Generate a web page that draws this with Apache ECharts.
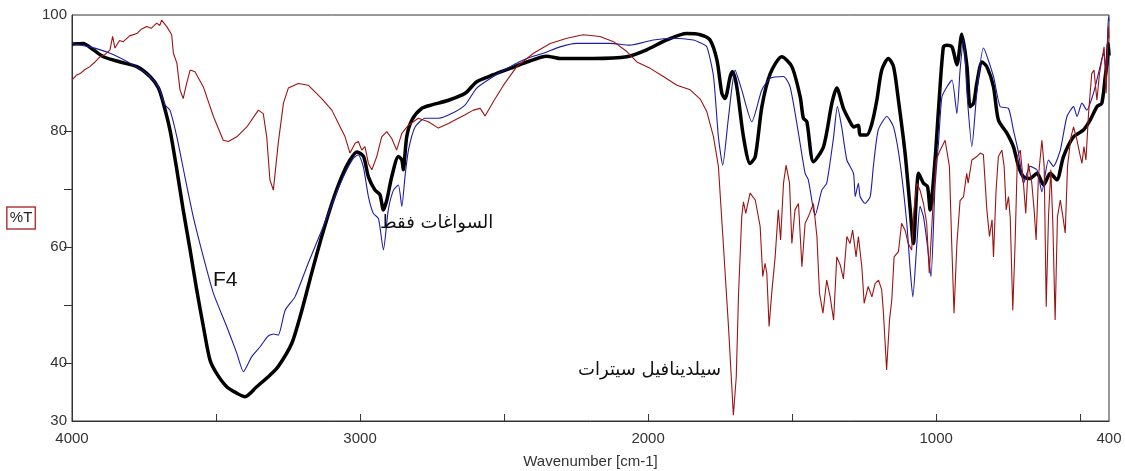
<!DOCTYPE html>
<html>
<head>
<meta charset="utf-8">
<title>FTIR</title>
<script src="https://cdn.jsdelivr.net/npm/echarts@6/dist/echarts.min.js"></script>
<style>
  html, body { margin: 0; padding: 0; background: #fff; }
  #chart { width: 1125px; height: 471px; }
</style>
</head>
<body>
<div id="chart"></div>
<script>
// Wavenumber axis labels / ticks (cm-1) and transmittance axis labels / ticks (%T)
const xLabelValues = [4000, 3000, 2000, 1000, 400];
const xTickValues = [3500, 3000, 2500, 2000, 1500, 1000, 500];
const yLabelValues = [30, 40, 60, 80, 100];
const yTickValues = [40, 50, 60, 70, 80];

// F4 formulation spectrum: [wavenumber, %T]
const f4Data = [
  [4000, 95.0], [3961, 95.1], [3926, 94.0], [3891, 92.8], [3833, 91.9], [3775, 91.1],
  [3729, 89.4], [3700, 87.4], [3683, 84.8], [3660, 80.2], [3636, 73.3], [3614, 66.4],
  [3590, 59.5], [3567, 52.6], [3544, 46.3], [3521, 40.5], [3498, 38.2], [3463, 35.9],
  [3428, 34.8], [3399, 34.2], [3359, 35.9], [3313, 37.9], [3284, 39.4], [3237, 43.4],
  [3202, 49.1], [3168, 55.5], [3133, 61.8], [3098, 67.5], [3064, 72.1], [3035, 75.0],
  [3011, 76.4], [2988, 75.6], [2971, 72.1], [2948, 69.8], [2931, 69.0], [2919, 66.4],
  [2907, 68.1], [2890, 72.1], [2867, 75.6], [2855, 75.0], [2850, 73.3], [2838, 79.0],
  [2820, 81.9], [2786, 83.9], [2751, 84.5], [2693, 85.3], [2635, 86.5], [2595, 88.5],
  [2537, 89.7], [2479, 90.8], [2421, 91.9], [2352, 92.9], [2306, 92.5], [2190, 92.5],
  [2074, 92.8], [2005, 94.0], [1935, 95.7], [1866, 96.8], [1819, 96.6], [1785, 95.7],
  [1761, 92.2], [1744, 86.5], [1733, 85.6], [1715, 89.4], [1707, 90.2], [1692, 87.6],
  [1669, 79.0], [1646, 74.4], [1628, 75.6], [1605, 84.2], [1576, 89.9], [1536, 92.8],
  [1501, 91.1], [1472, 85.9], [1461, 82.2], [1449, 81.6], [1426, 74.7], [1391, 77.3],
  [1362, 84.8], [1345, 87.4], [1322, 83.9], [1299, 81.6], [1287, 80.7], [1270, 81.0],
  [1264, 79.3], [1241, 79.3], [1223, 81.3], [1206, 85.3], [1189, 90.5], [1166, 92.5],
  [1148, 91.1], [1131, 85.3], [1108, 76.2], [1090, 66.4], [1079, 60.6], [1061, 72.7],
  [1044, 71.0], [1030, 70.4], [1021, 66.4], [1004, 75.0], [992, 83.6], [975, 94.5],
  [963, 94.8], [945, 94.5], [928, 91.4], [911, 96.7], [893, 91.1], [882, 84.2],
  [870, 84.8], [859, 88.2], [841, 91.9], [824, 91.1], [801, 87.6], [784, 81.9],
  [754, 79.6], [732, 77.3], [714, 73.9], [697, 72.1], [674, 71.8], [650, 72.7],
  [627, 70.7], [604, 72.7], [581, 71.6], [558, 75.6], [523, 79.0], [488, 80.2],
  [465, 81.9], [442, 84.2], [425, 84.8], [413, 89.4], [406, 92.0], [402, 95.1], [400, 93.0]
];

// Excipients-only spectrum: [wavenumber, %T]
const excipientData = [
  [4000, 95.1], [3938, 94.5], [3868, 93.4], [3799, 91.7], [3741, 89.9], [3700, 87.6],
  [3677, 84.5], [3660, 83.6], [3636, 79.0], [3608, 72.1], [3579, 65.2], [3544, 58.3],
  [3509, 52.0], [3463, 46.3], [3428, 41.7], [3405, 38.5], [3376, 41.1], [3347, 42.8],
  [3320, 44.6], [3300, 45.0], [3284, 44.8], [3260, 49.1], [3226, 51.4], [3180, 57.2],
  [3133, 62.9], [3087, 68.7], [3052, 72.7], [3023, 75.3], [3006, 75.9], [2989, 73.9],
  [2971, 68.7], [2954, 65.8], [2936, 64.9], [2919, 59.5], [2902, 66.4], [2884, 69.8],
  [2867, 70.7], [2855, 67.0], [2844, 72.1], [2832, 76.7], [2809, 80.7], [2774, 82.2],
  [2728, 82.2], [2682, 83.0], [2635, 84.5], [2595, 87.4], [2537, 89.4], [2479, 91.1],
  [2421, 92.5], [2364, 93.4], [2306, 94.5], [2248, 95.1], [2132, 95.1], [2063, 94.8],
  [1982, 95.7], [1912, 96.0], [1843, 95.7], [1819, 95.2], [1796, 94.5], [1773, 89.4],
  [1756, 79.0], [1741, 74.1], [1722, 81.9], [1698, 90.5], [1675, 87.1], [1640, 81.6],
  [1605, 87.1], [1576, 89.1], [1530, 89.4], [1507, 87.6], [1478, 79.6], [1455, 72.7],
  [1444, 71.6], [1426, 66.4], [1420, 65.5], [1397, 69.8], [1380, 71.0], [1356, 79.0],
  [1343, 84.2], [1328, 80.7], [1310, 75.0], [1287, 72.7], [1281, 68.7], [1270, 71.0],
  [1264, 68.7], [1247, 67.5], [1229, 68.7], [1218, 73.9], [1201, 80.2], [1171, 82.5],
  [1148, 80.7], [1125, 74.4], [1102, 64.1], [1090, 56.0], [1081, 51.4], [1067, 60.6],
  [1056, 67.0], [1044, 65.2], [1030, 60.1], [1018, 54.9], [1004, 70.4], [992, 77.9],
  [980, 85.9], [963, 87.6], [945, 88.8], [928, 83.0], [917, 90.5], [905, 95.7],
  [893, 86.5], [876, 77.3], [859, 86.5], [836, 94.3], [801, 89.4], [778, 84.2],
  [749, 83.9], [732, 80.2], [714, 76.2], [702, 72.1], [697, 71.0], [674, 73.9],
  [650, 73.3], [633, 69.5], [610, 75.0], [593, 73.9], [569, 76.7], [546, 82.5],
  [523, 84.2], [511, 82.5], [494, 84.8], [477, 83.6], [454, 86.5], [431, 91.1],
  [419, 93.4], [410, 90.5], [402, 99.7], [400, 99.0]
];

// Sildenafil citrate spectrum: [wavenumber, %T]
const sildenafilData = [
  [4000, 88.8], [3985, 89.6], [3972, 89.9], [3955, 90.6], [3938, 91.1], [3920, 91.9],
  [3903, 92.8], [3885, 93.2], [3868, 94.0], [3859, 96.3], [3851, 94.3], [3835, 95.6],
  [3822, 95.4], [3800, 96.4], [3775, 96.8], [3758, 97.6], [3741, 98.0], [3725, 97.7],
  [3706, 98.6], [3695, 98.2], [3689, 99.1], [3671, 98.0], [3654, 96.6], [3648, 93.4],
  [3636, 91.7], [3625, 87.1], [3614, 85.6], [3602, 88.2], [3590, 90.5], [3573, 90.2],
  [3544, 87.6], [3509, 82.5], [3475, 78.4], [3457, 78.2], [3428, 79.0], [3393, 80.7],
  [3353, 83.6], [3336, 83.0], [3324, 79.0], [3313, 71.6], [3301, 69.8], [3284, 77.9],
  [3266, 84.8], [3249, 87.4], [3214, 88.2], [3180, 87.9], [3133, 85.6], [3098, 83.6],
  [3075, 81.3], [3052, 79.0], [3035, 76.2], [3017, 77.9], [3006, 78.2], [2994, 76.7],
  [2983, 77.3], [2971, 74.4], [2959, 73.3], [2942, 75.6], [2925, 79.0], [2907, 79.9],
  [2890, 78.7], [2873, 76.7], [2855, 79.6], [2832, 81.0], [2798, 82.2], [2763, 81.6],
  [2728, 80.5], [2693, 81.3], [2659, 82.2], [2635, 82.8], [2607, 83.6], [2583, 83.9],
  [2566, 82.6], [2537, 85.1], [2502, 87.9], [2456, 91.1], [2398, 93.4], [2340, 95.1],
  [2282, 96.0], [2225, 96.6], [2167, 96.3], [2120, 95.4], [2074, 93.7], [2039, 91.9],
  [1993, 90.8], [1947, 89.4], [1900, 87.9], [1854, 87.1], [1819, 85.5], [1796, 83.3],
  [1773, 79.0], [1756, 73.9], [1739, 60.6], [1721, 46.3], [1704, 31.0], [1694, 37.6],
  [1686, 52.0], [1675, 65.2], [1669, 67.8], [1661, 65.8], [1646, 69.3], [1628, 68.1],
  [1611, 63.5], [1602, 54.9], [1594, 57.2], [1588, 55.5], [1580, 46.3], [1571, 52.0],
  [1559, 58.3], [1548, 66.4], [1540, 61.2], [1530, 71.0], [1521, 74.1], [1509, 71.0],
  [1501, 60.6], [1490, 66.4], [1478, 67.5], [1466, 56.6], [1455, 64.1], [1444, 65.2],
  [1426, 67.5], [1414, 61.8], [1405, 52.0], [1393, 48.6], [1380, 54.3], [1368, 51.4],
  [1356, 47.4], [1345, 58.3], [1333, 56.9], [1322, 54.5], [1310, 61.8], [1299, 60.6],
  [1290, 62.9], [1278, 58.3], [1270, 61.8], [1258, 56.6], [1250, 50.3], [1236, 53.2],
  [1223, 51.4], [1212, 53.7], [1200, 54.3], [1189, 52.6], [1183, 48.6], [1172, 38.8],
  [1162, 47.4], [1154, 50.9], [1146, 58.3], [1131, 59.2], [1120, 64.1], [1108, 62.9],
  [1097, 60.6], [1085, 59.5], [1077, 66.4], [1067, 71.0], [1056, 69.8], [1044, 67.5],
  [1033, 64.1], [1024, 55.5], [1012, 66.4], [1000, 75.0], [986, 76.7], [969, 78.4],
  [954, 73.9], [946, 60.6], [938, 48.6], [928, 60.6], [917, 68.0], [905, 68.7],
  [894, 72.7], [889, 71.0], [876, 75.0], [859, 75.6], [847, 76.2], [836, 75.9],
  [824, 66.4], [815, 61.8], [806, 64.7], [801, 58.3], [792, 69.8], [784, 75.6],
  [772, 76.7], [764, 73.9], [757, 66.4], [749, 68.7], [743, 65.2], [734, 49.1],
  [726, 60.6], [718, 75.6], [708, 76.7], [697, 71.0], [689, 65.8], [680, 74.4],
  [668, 71.0], [660, 66.4], [653, 61.2], [645, 72.1], [633, 78.4], [625, 73.9],
  [618, 49.7], [610, 65.2], [602, 73.3], [595, 64.1], [587, 47.4], [579, 65.2],
  [569, 68.1], [560, 65.2], [552, 62.4], [544, 73.9], [532, 79.0], [523, 80.7],
  [511, 78.4], [502, 76.2], [494, 74.4], [487, 77.3], [480, 75.0], [471, 83.0],
  [460, 89.9], [452, 90.5], [442, 85.3], [433, 89.9], [425, 92.2], [417, 94.5],
  [410, 86.5], [402, 98.0], [400, 96.0]
];

const labelFont = '"Liberation Sans", Arial, "DejaVu Sans", sans-serif';
const plainNumber = function (v) { return String(v); };

const chart = echarts.init(document.getElementById('chart'), null, { renderer: 'canvas' });

chart.setOption({
  animation: false,
  backgroundColor: '#ffffff',
  grid: {
    left: 72, right: 16, top: 15, bottom: 50,
    containLabel: false,
    outerBoundsMode: 'none',
    show: true, borderColor: '#333333', borderWidth: 1, backgroundColor: 'transparent'
  },
  xAxis: {
    type: 'value',
    inverse: true,
    min: 400,
    max: 4000,
    name: 'Wavenumber [cm-1]',
    nameLocation: 'middle',
    nameGap: 33,
    nameTextStyle: { color: '#333333', fontSize: 15, fontFamily: labelFont },
    axisLine: { show: true, onZero: false, lineStyle: { color: '#333333', width: 1 } },
    axisTick: { show: true, inside: true, length: 7, customValues: xTickValues, lineStyle: { color: '#333333' } },
    axisLabel: {
      customValues: xLabelValues,
      formatter: plainNumber,
      color: '#333333', fontSize: 15, fontFamily: labelFont, margin: 10,
      showMinLabel: true, showMaxLabel: true
    },
    splitLine: { show: false }
  },
  yAxis: {
    type: 'value',
    min: 30,
    max: 100,
    name: '%T',
    nameLocation: 'middle',
    nameRotate: 0,
    nameGap: 34,
    nameTextStyle: {
      color: '#222222', fontSize: 15, fontFamily: labelFont,
      borderColor: '#b03a3a', borderWidth: 1.5, padding: [4, 3, 3, 3]
    },
    axisLine: { show: true, lineStyle: { color: '#333333', width: 1 } },
    axisTick: { show: true, inside: false, length: 8, customValues: yTickValues, lineStyle: { color: '#333333' } },
    axisLabel: {
      customValues: yLabelValues,
      formatter: plainNumber,
      color: '#333333', fontSize: 15, fontFamily: labelFont, margin: 5,
      showMinLabel: true, showMaxLabel: true
    },
    splitLine: { show: false }
  },
  series: [
    {
      name: 'F4',
      type: 'line',
      data: f4Data,
      showSymbol: false,
      smooth: 0.25,
      lineStyle: { color: '#000000', width: 3.5 },
      z: 2
    },
    {
      name: 'السواغات فقط',
      type: 'line',
      data: excipientData,
      showSymbol: false,
      smooth: 0.2,
      lineStyle: { color: '#1c1ca6', width: 1.1 },
      z: 3
    },
    {
      name: 'سيلدينافيل سيترات',
      type: 'line',
      data: sildenafilData,
      showSymbol: false,
      lineStyle: { color: '#9c1414', width: 1.1 },
      z: 4
    }
  ],
  graphic: [
    {
      type: 'text', left: 213, top: 270, z: 10,
      style: { text: 'F4', fontSize: 21, fontFamily: labelFont, fill: '#111111' }
    },
    {
      type: 'text', left: 380, top: 214, z: 10,
      style: { text: 'السواغات فقط', fontSize: 18, fontFamily: '"DejaVu Sans", sans-serif', fill: '#111111' }
    },
    {
      type: 'text', left: 578, top: 361, z: 10,
      style: { text: 'سيلدينافيل سيترات', fontSize: 18, fontFamily: '"DejaVu Sans", sans-serif', fill: '#111111' }
    }
  ]
});
</script>
</body>
</html>
